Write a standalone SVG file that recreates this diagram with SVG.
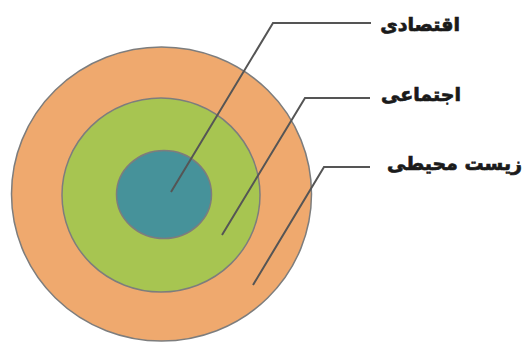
<svg xmlns="http://www.w3.org/2000/svg" width="525" height="342" viewBox="0 0 525 342">
<style>
.ring{stroke:#7d7d7d;stroke-width:1.5}
.lead{fill:none;stroke:#555555;stroke-width:2}
.lbl{font-family:"DejaVu Sans",sans-serif;font-weight:bold;font-size:19px;fill:#1a1a1a;stroke:#1a1a1a;stroke-width:0.7;text-anchor:end}
</style>
<rect width="525" height="342" fill="#ffffff"/>
<g id="env"><ellipse class="ring" cx="161.5" cy="194" rx="150" ry="147" fill="#EFA96E"/></g>
<g id="social"><ellipse class="ring" cx="161" cy="195" rx="99" ry="97" fill="#A7C551"/></g>
<g id="economic"><ellipse class="ring" cx="164" cy="194.5" rx="47.5" ry="44" fill="#46929A"/></g>
<g id="connectors">
<polyline class="lead" points="171,192 273,23 371,23"/>
<polyline class="lead" points="222,235 305,98 370,98"/>
<polyline class="lead" points="253,285 324,167 370,167"/>
</g>
<g id="labels">
<text class="lbl" x="460" y="31">اقتصادی</text>
<text class="lbl" x="461" y="101">اجتماعی</text>
<text class="lbl" x="522" y="170">زیست محیطی</text>
</g>
</svg>
